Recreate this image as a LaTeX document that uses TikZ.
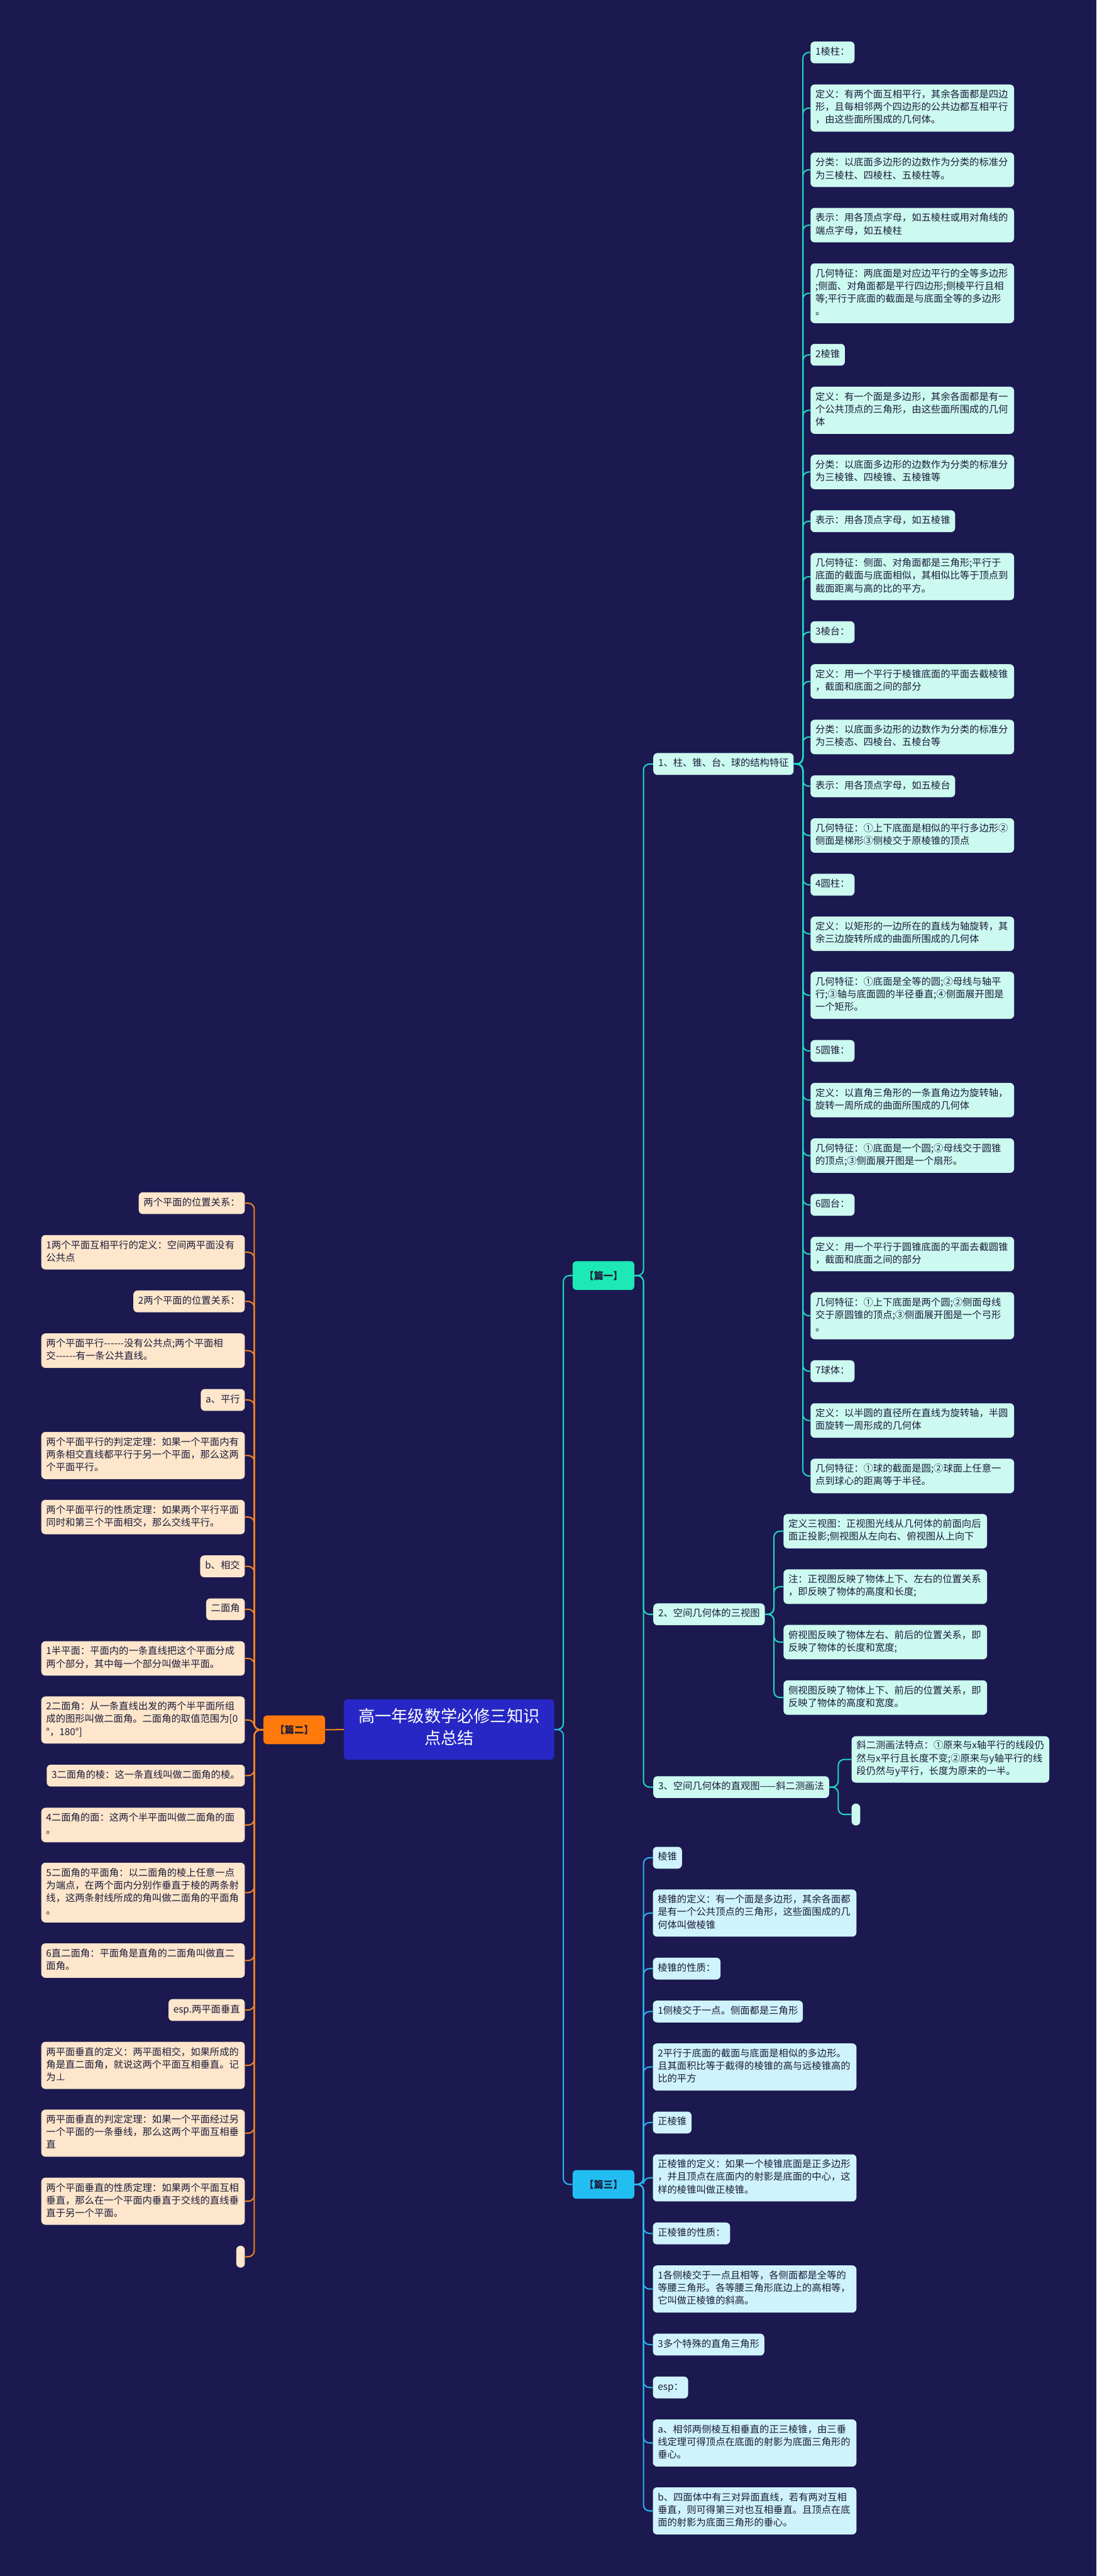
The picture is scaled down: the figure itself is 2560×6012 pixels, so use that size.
\documentclass[tikz,border=0pt]{standalone}
\usepackage{fontspec}
\setmainfont{Noto Sans CJK SC}
\definecolor{bgc}{HTML}{1B1950}
\definecolor{rootc}{HTML}{2727C6}
\definecolor{tealc}{HTML}{1DE9B6}
\definecolor{teall}{HTML}{22D8C0}
\definecolor{mintc}{HTML}{CCFAF0}
\definecolor{orangec}{HTML}{FF7A0A}
\definecolor{orangel}{HTML}{F5841F}
\definecolor{peachc}{HTML}{FDE6CB}
\definecolor{skyc}{HTML}{22BEF2}
\definecolor{skyl}{HTML}{2AB4EE}
\definecolor{icec}{HTML}{CFF3FC}
\definecolor{inkc}{HTML}{1B1B3A}
\newcommand\leaffont{\fontsize{12.8pt}{16.8pt}\selectfont}
\newcommand\rootfont{\fontsize{21.9pt}{29pt}\selectfont}

\begin{document}
\begin{tikzpicture}[x=0.02cm,y=-0.02cm,
  leaf/.style={fill=#1, text=inkc, font=\leaffont, align=left, rounded corners=5.5pt,
    inner xsep=6.5pt, inner ysep=6.1pt, execute at begin node=\strut, execute at end node=\strut},
  onel/.style={leaf=mintc, anchor=west},
  twol/.style={leaf=peachc, anchor=east},
  threel/.style={leaf=icec, anchor=west},
  wbox/.style={text width=9.05cm},
  branch/.style={fill=#1, text=inkc, font=\leaffont\bfseries, rounded corners=5pt,
    minimum width=2.88cm, minimum height=1.34cm},
  rootbox/.style={fill=rootc, text=white, font=\rootfont, align=center, rounded corners=4.5pt,
    minimum width=9.82cm, minimum height=2.82cm, execute at begin node=\strut, execute at end node=\strut},
  tealline/.style={draw=teall, line width=1.7pt, rounded corners=8pt},
  orangeline/.style={draw=orangel, line width=1.7pt, rounded corners=8pt},
  skyline/.style={draw=skyl, line width=1.7pt, rounded corners=8pt}]
\useasboundingbox (0,0) rectangle (2560,6012);
\fill[bgc] (0,0) rectangle (2560,6012);

\node[rootbox] (R) at (1048.5,4036.5) {高一年级数学必修三知识\\点总结};
\node[branch=tealc] (p1) at (1409,2977) {【篇一】};
\node[branch=orangec] (p2) at (687,4037) {【篇二】};
\node[branch=skyc] (p3) at (1409,5098) {【篇三】};
%
\node[onel] (s1) at (1525,1783) {1、柱、锥、台、球的结构特征};
\node[onel] (s2) at (1525,3767.5) {2、空间几何体的三视图};
\node[onel] (s3) at (1525,4170.8) {3、空间几何体的直观图——斜二测画法};
%
\node[onel] (a1) at (1892,122.4) {1棱柱：};
\node[onel,wbox] (a2) at (1892,252.2) {定义：有两个面互相平行，其余各面都是四边\\形，且每相邻两个四边形的公共边都互相平行\\，由这些面所围成的几何体。};
\node[onel,wbox] (a3) at (1892,396.2) {分类：以底面多边形的边数作为分类的标准分\\为三棱柱、四棱柱、五棱柱等。};
\node[onel,wbox] (a4) at (1892,525.5) {表示：用各顶点字母，如五棱柱或用对角线的\\端点字母，如五棱柱};
\node[onel,wbox] (a5) at (1892,684.4) {几何特征：两底面是对应边平行的全等多边形\\;侧面、对角面都是平行四边形;侧棱平行且相\\等;平行于底面的截面是与底面全等的多边形\\。};
\node[onel] (a6) at (1892,828) {2棱锥};
\node[onel,wbox] (a7) at (1892,957.5) {定义：有一个面是多边形，其余各面都是有一\\个公共顶点的三角形，由这些面所围成的几何\\体};
\node[onel,wbox] (a8) at (1892,1101.4) {分类：以底面多边形的边数作为分类的标准分\\为三棱锥、四棱锥、五棱锥等};
\node[onel] (a9) at (1892,1216.4) {表示：用各顶点字母，如五棱锥};
\node[onel,wbox] (a10) at (1892,1345.8) {几何特征：侧面、对角面都是三角形;平行于\\底面的截面与底面相似，其相似比等于顶点到\\截面距离与高的比的平方。};
\node[onel] (a11) at (1892,1475.4) {3棱台：};
\node[onel,wbox] (a12) at (1892,1590.5) {定义：用一个平行于棱锥底面的平面去截棱锥\\，截面和底面之间的部分};
\node[onel,wbox] (a13) at (1892,1720) {分类：以底面多边形的边数作为分类的标准分\\为三棱态、四棱台、五棱台等};
\node[onel] (a14) at (1892,1835) {表示：用各顶点字母，如五棱台};
\node[onel,wbox] (a15) at (1892,1949.9) {几何特征：①上下底面是相似的平行多边形②\\侧面是梯形③侧棱交于原棱锥的顶点};
\node[onel] (a16) at (1892,2064.9) {4圆柱：};
\node[onel,wbox] (a17) at (1892,2179.3) {定义：以矩形的一边所在的直线为轴旋转，其\\余三边旋转所成的曲面所围成的几何体};
\node[onel,wbox] (a18) at (1892,2322.9) {几何特征：①底面是全等的圆;②母线与轴平\\行;③轴与底面圆的半径垂直;④侧面展开图是\\一个矩形。};
\node[onel] (a19) at (1892,2452.7) {5圆锥：};
\node[onel,wbox] (a20) at (1892,2567.5) {定义：以直角三角形的一条直角边为旋转轴，\\旋转一周所成的曲面所围成的几何体};
\node[onel,wbox] (a21) at (1892,2697) {几何特征：①底面是一个圆;②母线交于圆锥\\的顶点;③侧面展开图是一个扇形。};
\node[onel] (a22) at (1892,2812) {6圆台：};
\node[onel,wbox] (a23) at (1892,2926.8) {定义：用一个平行于圆锥底面的平面去截圆锥\\，截面和底面之间的部分};
\node[onel,wbox] (a24) at (1892,3070.7) {几何特征：①上下底面是两个圆;②侧面母线\\交于原圆锥的顶点;③侧面展开图是一个弓形\\。};
\node[onel] (a25) at (1892,3200.2) {7球体：};
\node[onel,wbox] (a26) at (1892,3315.2) {定义：以半圆的直径所在直线为旋转轴，半圆\\面旋转一周形成的几何体};
\node[onel,wbox] (a27) at (1892,3444.6) {几何特征：①球的截面是圆;②球面上任意一\\点到球心的距离等于半径。};
%
\node[onel,wbox] (b1) at (1829,3573.5) {定义三视图：正视图光线从几何体的前面向后\\面正投影;侧视图从左向右、俯视图从上向下};
\node[onel,wbox] (b2) at (1829,3703) {注：正视图反映了物体上下、左右的位置关系\\，即反映了物体的高度和长度;};
\node[onel,wbox] (b3) at (1829,3832.4) {俯视图反映了物体左右、前后的位置关系，即\\反映了物体的长度和宽度;};
\node[onel,wbox] (b4) at (1829,3961.8) {侧视图反映了物体上下、前后的位置关系，即\\反映了物体的高度和宽度。};
%
\node[onel] (c1) at (1988,4106.2) {斜二测画法特点：①原来与x轴平行的线段仍\\然与x平行且长度不变;②原来与y轴平行的线\\段仍然与y平行，长度为原来的一半。};
\node[onel,inner xsep=5.7pt] (c2) at (1988,4234.8) {};
%
\node[twol] (d1) at (572,2808) {两个平面的位置关系：};
\node[twol,wbox] (d2) at (572,2922.6) {1两个平面互相平行的定义：空间两平面没有\\公共点};
\node[twol] (d3) at (572,3037.3) {2两个平面的位置关系：};
\node[twol,wbox] (d4) at (572,3152.2) {两个平面平行{-}{-}{-}{-}{-}{-}没有公共点;两个平面相\\交{-}{-}{-}{-}{-}{-}有一条公共直线。};
\node[twol] (d5) at (572,3267.2) {a、平行};
\node[twol,wbox] (d6) at (572,3396.9) {两个平面平行的判定定理：如果一个平面内有\\两条相交直线都平行于另一个平面，那么这两\\个平面平行。};
\node[twol,wbox] (d7) at (572,3540.5) {两个平面平行的性质定理：如果两个平行平面\\同时和第三个平面相交，那么交线平行。};
\node[twol] (d8) at (572,3655.6) {b、相交};
\node[twol] (d9) at (572,3755.8) {二面角};
\node[twol,wbox] (d10) at (572,3870.5) {1半平面：平面内的一条直线把这个平面分成\\两个部分，其中每一个部分叫做半平面。};
\node[twol,wbox] (d11) at (572,4014.2) {2二面角：从一条直线出发的两个半平面所组\\成的图形叫做二面角。二面角的取值范围为[0\\°，180°]};
\node[twol] (d12) at (572,4144) {3二面角的棱：这一条直线叫做二面角的棱。};
\node[twol,wbox] (d13) at (572,4259.2) {4二面角的面：这两个半平面叫做二面角的面\\。};
\node[twol,wbox] (d14) at (572,4417) {5二面角的平面角：以二面角的棱上任意一点\\为端点，在两个面内分别作垂直于棱的两条射\\线，这两条射线所成的角叫做二面角的平面角\\。};
\node[twol,wbox] (d15) at (572,4575.6) {6直二面角：平面角是直角的二面角叫做直二\\面角。};
\node[twol] (d16) at (572,4691) {esp.两平面垂直};
\node[twol,wbox] (d17) at (572,4820.3) {两平面垂直的定义：两平面相交，如果所成的\\角是直二面角，就说这两个平面互相垂直。记\\为⊥};
\node[twol,wbox] (d18) at (572,4978.4) {两平面垂直的判定定理：如果一个平面经过另\\一个平面的一条垂线，那么这两个平面互相垂\\直};
\node[twol,wbox] (d19) at (572,5137.3) {两个平面垂直的性质定理：如果两个平面互相\\垂直，那么在一个平面内垂直于交线的直线垂\\直于另一个平面。};
\node[twol,inner xsep=5.7pt] (d20) at (572,5266.7) {};
%
\node[threel] (e1) at (1524,4335.6) {棱锥};
\node[threel,wbox] (e2) at (1524,4464.8) {棱锥的定义：有一个面是多边形，其余各面都\\是有一个公共顶点的三角形，这些面围成的几\\何体叫做棱锥};
\node[threel] (e3) at (1524,4594.4) {棱锥的性质：};
\node[threel] (e4) at (1524,4694.5) {1侧棱交于一点。侧面都是三角形};
\node[threel,wbox] (e5) at (1524,4824) {2平行于底面的截面与底面是相似的多边形。\\且其面积比等于截得的棱锥的高与远棱锥高的\\比的平方};
\node[threel] (e6) at (1524,4953.6) {正棱锥};
\node[threel,wbox] (e7) at (1524,5082.8) {正棱锥的定义：如果一个棱锥底面是正多边形\\，并且顶点在底面内的射影是底面的中心，这\\样的棱锥叫做正棱锥。};
\node[threel] (e8) at (1524,5212.5) {正棱锥的性质：};
\node[threel,wbox] (e9) at (1524,5342.2) {1各侧棱交于一点且相等，各侧面都是全等的\\等腰三角形。各等腰三角形底边上的高相等，\\它叫做正棱锥的斜高。};
\node[threel] (e10) at (1524,5471.9) {3多个特殊的直角三角形};
\node[threel] (e11) at (1524,5572) {esp：};
\node[threel,wbox] (e12) at (1524,5701.5) {a、相邻两侧棱互相垂直的正三棱锥，由三垂\\线定理可得顶点在底面的射影为底面三角形的\\垂心。};
\node[threel,wbox] (e13) at (1524,5860) {b、四面体中有三对异面直线，若有两对互相\\垂直，则可得第三对也互相垂直。且顶点在底\\面的射影为底面三角形的垂心。};

% connectors
\draw[tealline] (R.east) -- ++(21,0) |- (p1.west);
\draw[skyline] (R.east) -- ++(21,0) |- (p3.west);
\draw[orangeline] (R.west) -- (p2.east);
\foreach \s in {s1,s2,s3}
  \draw[tealline] (p1.east) -- ++(21,0) |- (\s.west);
\foreach \i in {1,...,27}
  \draw[tealline] (s1.east) -- ++(21,0) |- (a\i.west);
\foreach \i in {1,...,4}
  \draw[tealline] (s2.east) -- ++(21,0) |- (b\i.west);
\foreach \i in {1,2}
  \draw[tealline] (s3.east) -- ++(21,0) |- (c\i.west);
\foreach \i in {1,...,20}
  \draw[orangeline] (p2.west) -- ++(-21,0) |- (d\i.east);
\foreach \i in {1,...,13}
  \draw[skyline] (p3.east) -- ++(21,0) |- (e\i.west);
\end{tikzpicture}
\end{document}
